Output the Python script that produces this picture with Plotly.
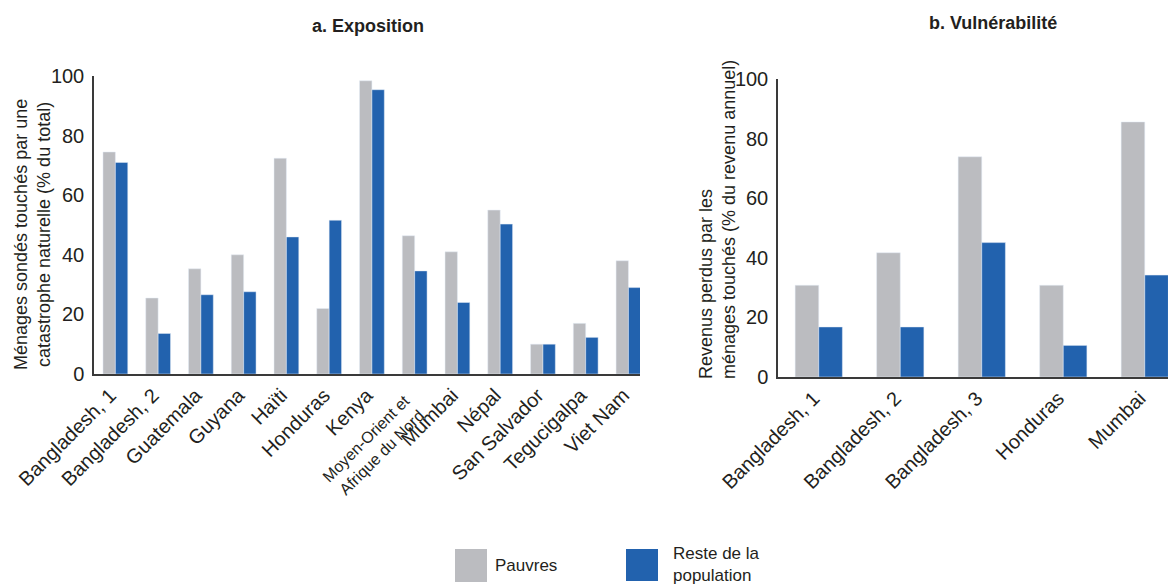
import plotly.graph_objects as go

# Panel a: share of surveyed households hit by a natural disaster (% of total)
expo_categories = ["Bangladesh, 1", "Bangladesh, 2", "Guatemala", "Guyana", "Haïti", "Honduras",
                   "Kenya", "Moyen-Orient et Afrique du Nord", "Mumbai", "Népal", "San Salvador",
                   "Tegucigalpa", "Viet Nam"]
# The long two-line region name is written as a separate rotated label
expo_ticktext = ["Bangladesh, 1", "Bangladesh, 2", "Guatemala", "Guyana", "Haïti", "Honduras",
                 "Kenya", "", "Mumbai", "Népal", "San Salvador", "Tegucigalpa", "Viet Nam"]
mena_label = "Moyen-Orient et<br>Afrique du Nord"
expo_pauvres = [74.5, 25.5, 35.3, 40.0, 72.4, 22.0, 98.4, 46.4, 41.0, 55.0, 10.0, 17.0, 38.0]
expo_reste = [71.0, 13.6, 26.6, 27.6, 46.0, 51.6, 95.4, 34.6, 24.0, 50.3, 10.0, 12.3, 29.0]

# Panel b: income lost by affected households (% of annual income)
vuln_categories = ["Bangladesh, 1", "Bangladesh, 2", "Bangladesh, 3", "Honduras", "Mumbai"]
vuln_pauvres = [30.8, 41.7, 73.9, 30.8, 85.6]
vuln_reste = [16.8, 16.8, 45.1, 10.6, 34.2]

y_ticks = [0, 20, 40, 60, 80, 100]

GRAY = "#BBBCC0"
BLUE = "#2262AE"
TXT = "#231F20"
FONT = "Liberation Sans, Arial, sans-serif"

W, H = 1168, 586


def px_x(p):
    return p / W


def px_y(p):
    return 1 - p / H


fig = go.Figure()
fig.add_bar(x=expo_categories, y=expo_pauvres, name="Pauvres", marker_color=GRAY,
            xaxis="x", yaxis="y", showlegend=False)
fig.add_bar(x=expo_categories, y=expo_reste, name="Reste de la population", marker_color=BLUE,
            xaxis="x", yaxis="y", showlegend=False)
fig.add_bar(x=vuln_categories, y=vuln_pauvres, name="Pauvres", marker_color=GRAY,
            xaxis="x2", yaxis="y2", showlegend=False)
fig.add_bar(x=vuln_categories, y=vuln_reste, name="Reste de la population", marker_color=BLUE,
            xaxis="x2", yaxis="y2", showlegend=False)

axis_line = dict(showline=True, linecolor="#3A3A3A", linewidth=1.5, showgrid=False,
                 zeroline=False, ticks="", automargin=False)
xfont = dict(family=FONT, size=20, color=TXT)
yfont = dict(family=FONT, size=20, color=TXT)

fig.update_layout(
    width=W, height=H,
    margin=dict(l=0, r=0, t=0, b=0),
    paper_bgcolor="white", plot_bgcolor="white",
    barmode="group", bargap=0.42, bargroupgap=0,
    font=dict(family=FONT, color=TXT),
    xaxis=dict(domain=[px_x(94), px_x(640)], anchor="y", range=[-0.5, 12.27],
               tickmode="array", tickvals=expo_categories, ticktext=expo_ticktext,
               tickangle=-45, tickfont=xfont, ticklabelshift=-5, **axis_line),
    yaxis=dict(domain=[px_y(374), px_y(76)], anchor="x", range=[0, 100],
               tickvals=y_ticks, tickfont=yfont, ticklabelstandoff=4, **axis_line),
    xaxis2=dict(domain=[px_x(778), 1.0], anchor="y2", range=[-0.5, 4.285],
                tickangle=-45, tickfont=xfont, ticklabelshift=-5, **axis_line),
    yaxis2=dict(domain=[px_y(377), px_y(79)], anchor="x2", range=[0, 100],
                tickvals=y_ticks, tickfont=yfont, ticklabelstandoff=4, **axis_line),
)

annotations = [
    dict(text="<b>a. Exposition</b>", x=px_x(368), y=px_y(26), xref="paper", yref="paper",
         xanchor="center", yanchor="middle", showarrow=False,
         font=dict(family=FONT, size=18, color=TXT)),
    dict(text="<b>b. Vulnérabilité</b>", x=px_x(993), y=px_y(23), xref="paper", yref="paper",
         xanchor="center", yanchor="middle", showarrow=False,
         font=dict(family=FONT, size=18, color=TXT)),
    dict(text="Ménages sondés touchés par une<br>catastrophe naturelle (% du total)",
         x=px_x(32), y=px_y(235), xref="paper", yref="paper", textangle=-90,
         showarrow=False, align="center", xanchor="center", yanchor="middle",
         font=dict(family=FONT, size=18, color=TXT)),
    dict(text="Revenus perdus par les<br>ménages touchés (% du revenu annuel)",
         x=px_x(717), y=px_y(220), xref="paper", yref="paper", textangle=-90,
         showarrow=False, align="left", xanchor="center", yanchor="middle",
         font=dict(family=FONT, size=18, color=TXT)),
    # rotated two-line category label under its bars
    dict(text=mena_label, x=expo_categories[7], xref="x", xshift=-41,
         y=px_y(446), yref="paper", textangle=-45, showarrow=False, align="right",
         xanchor="center", yanchor="middle", font=dict(family=FONT, size=16, color=TXT)),
    dict(text="Pauvres", x=px_x(493), y=px_y(565), xref="paper", yref="paper",
         showarrow=False, xanchor="left", yanchor="middle", align="left",
         font=dict(family=FONT, size=17, color=TXT)),
    dict(text="Reste de la<br>population", x=px_x(671), y=px_y(564), xref="paper", yref="paper",
         showarrow=False, xanchor="left", yanchor="middle", align="left",
         font=dict(family=FONT, size=17, color=TXT)),
]
fig.update_layout(annotations=annotations)

# Legend swatches
fig.add_shape(type="rect", xref="paper", yref="paper", x0=px_x(455), x1=px_x(487),
              y0=px_y(582), y1=px_y(549), fillcolor=GRAY, line_width=0)
fig.add_shape(type="rect", xref="paper", yref="paper", x0=px_x(626), x1=px_x(658),
              y0=px_y(581), y1=px_y(549), fillcolor=BLUE, line_width=0)

fig.write_html("out.html")
